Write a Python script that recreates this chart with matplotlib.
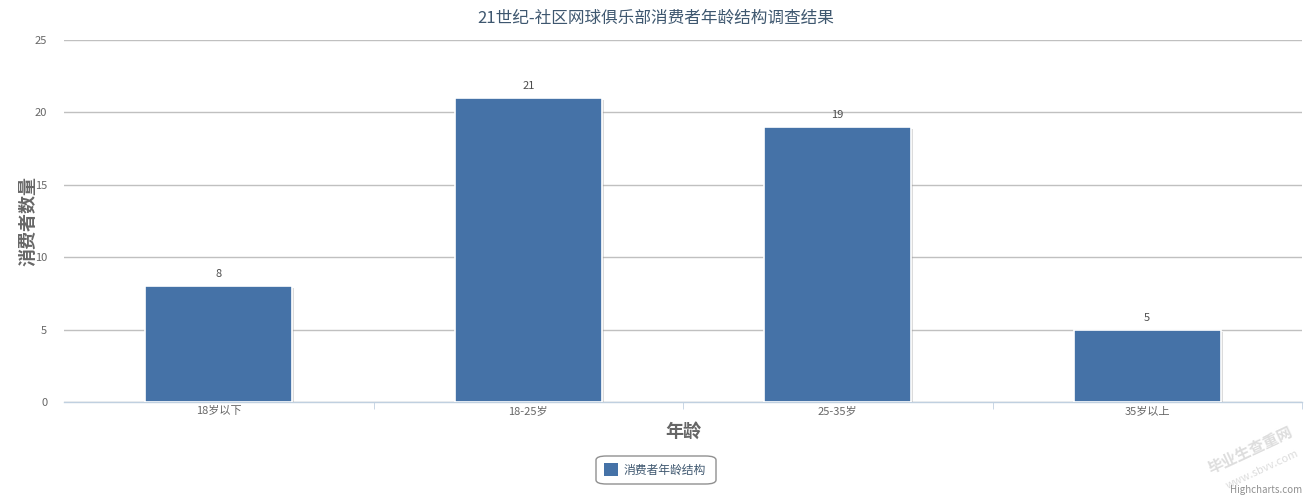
import matplotlib
matplotlib.use("Agg")
import matplotlib.pyplot as plt
from matplotlib.patches import FancyBboxPatch, Rectangle
import matplotlib.patheffects as pe

plt.rcParams['font.family'] = ['Noto Sans CJK SC', 'DejaVu Sans']

categories = ['18岁以下', '18-25岁', '25-35岁', '35岁以上']
values = [8, 21, 19, 5]
series_name = '消费者年龄结构'
title = '21世纪-社区网球俱乐部消费者年龄结构调查结果'
y_ticks = [0, 5, 10, 15, 20, 25]

W, H = 1312, 500
fig = plt.figure(figsize=(W / 100, H / 100), dpi=100)
left, right, top, bottom = 64, 1302, 40, 402
ax = fig.add_axes([left / W, 1 - bottom / H, (right - left) / W, (bottom - top) / H])

bar_color = '#4572A7'
x = list(range(len(categories)))
bars = ax.bar(x, values, width=0.475, color=bar_color, edgecolor='white', linewidth=1.2, zorder=3,
              path_effects=[pe.SimplePatchShadow(offset=(1.5, -1.5), shadow_rgbFace='#999999', alpha=0.35), pe.Normal()])

for xi, v in zip(x, values):
    ax.annotate(str(v), (xi, v), xytext=(0, 5), textcoords='offset points', ha='center', va='bottom',
                fontsize=8, color='#4d4d4d')

ax.set_xlim(-0.5, len(categories) - 0.5)
ax.set_ylim(0, 25)
ax.set_yticks(y_ticks)
ax.yaxis.grid(True, color='#C0C0C0', linewidth=1, zorder=0)
ax.set_axisbelow(True)
ax.tick_params(axis='y', length=0, labelsize=8, labelcolor='#666666', pad=12)

ax.set_xticks(x)
ax.set_xticklabels(categories, fontsize=8, color='#666666')
ax.tick_params(axis='x', length=0, pad=3)
ax.set_xticks([i + 0.5 for i in x], minor=True)
ax.tick_params(axis='x', which='minor', length=5, color='#C0D0E0', direction='out')

for s in ['top', 'right', 'left']:
    ax.spines[s].set_visible(False)
ax.spines['bottom'].set_color('#C0D0E0')
ax.spines['bottom'].set_linewidth(1)

fig.text(28 / W, 1 - 221 / H, '消费者数量', ha='center', va='center', rotation=90,
         fontsize=13, fontweight='bold', color='#666666')
ax.set_xlabel('年龄', fontsize=13, fontweight='bold', color='#666666', labelpad=4)

fig.text(656 / W, 1 - 18 / H, title, ha='center', va='center', fontsize=12, color='#3E576F')

# legend
lx0, ly0, lw, lh = 596, 456, 120, 28
fig.patches.append(FancyBboxPatch((lx0 / W, 1 - (ly0 + lh) / H), lw / W, lh / H,
                                  boxstyle='round,pad=0,rounding_size=0.008', transform=fig.transFigure,
                                  facecolor='white', edgecolor='#909090', linewidth=1))
fig.patches.append(Rectangle((604 / W, 1 - 476 / H), 14 / W, 13 / H, transform=fig.transFigure,
                             facecolor=bar_color, edgecolor='none'))
fig.text(624 / W, 1 - 470 / H, series_name, ha='left', va='center', fontsize=8.5, color='#3E576F')

# watermark and credit
fig.text(1250 / W, 1 - 450 / H, '毕业生查重网', ha='center', va='center', fontsize=11, color='#dddddd',
         rotation=25, fontweight='bold')
fig.text(1262 / W, 1 - 470 / H, 'www.sbvv.com', ha='center', va='center', fontsize=8, color='#dddddd',
         rotation=25)
fig.text(1302 / W, 1 - 490 / H, 'Highcharts.com', ha='right', va='center', fontsize=7, color='#909090')

fig.savefig('out.png', dpi=100)
